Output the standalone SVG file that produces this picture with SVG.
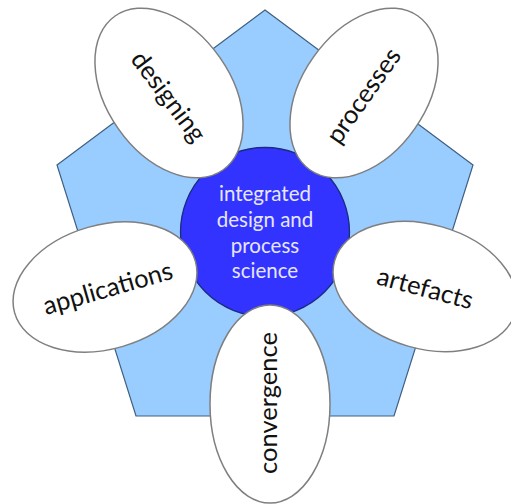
<svg xmlns="http://www.w3.org/2000/svg" width="511" height="504" viewBox="0 0 511 504">
<style>
text{font-family:Lato,"Open Sans",sans-serif;text-anchor:middle}
.p{fill:#fff;stroke:#7f7f7f;stroke-width:1.5}
.l{font-size:25.5px;fill:#111}
.c{font-size:20.5px;fill:#e6e6ff}
</style>
<rect width="511" height="504" fill="#fff"/>
<g id="pentagon"><polygon points="265,10 473,165 394,416 136,416 57,165" fill="#99ccff" stroke="#3f6080" stroke-width="1.2"/></g>
<g id="center"><circle cx="265" cy="232" r="84.5" fill="#3333ff" stroke="#1c2a80" stroke-width="1.3"/>
<text class="c" x="265" y="201">integrated</text><text class="c" x="265" y="227">design and</text><text class="c" x="265" y="253">process</text><text class="c" x="265" y="278">science</text></g>
<g id="designing"><ellipse class="p" cx="169" cy="93" rx="62" ry="94" transform="rotate(-35 169 93)"/><text class="l" transform="translate(168 97) rotate(53)" y="8">designing</text></g>
<g id="processes"><ellipse class="p" cx="364" cy="93" rx="62" ry="94" transform="rotate(35 364 93)"/><text class="l" transform="translate(364 96) rotate(-55)" y="8">processes</text></g>
<g id="artefacts"><ellipse class="p" cx="425" cy="286.500" rx="94" ry="62" transform="rotate(16 425 286.500)"/><text class="l" transform="translate(425 289) rotate(15)" y="8">artefacts</text></g>
<g id="applications"><ellipse class="p" cx="105" cy="287" rx="94" ry="62" transform="rotate(-16 105 287)"/><text class="l" transform="translate(108 289) rotate(-16)" y="8">applications</text></g>
<g id="convergence"><ellipse class="p" cx="270" cy="404" rx="60" ry="99"/><text class="l" transform="translate(269 403) rotate(-90)" y="8">convergence</text></g>
</svg>
